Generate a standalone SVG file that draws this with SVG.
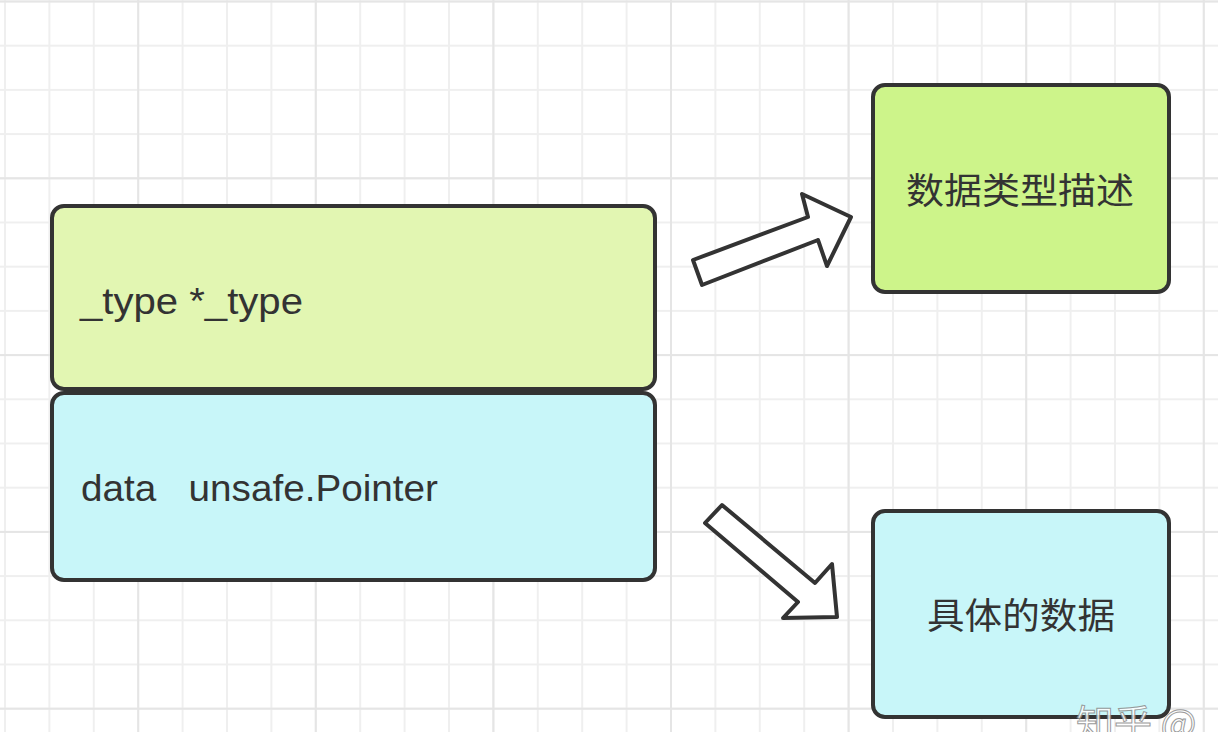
<svg xmlns="http://www.w3.org/2000/svg" width="1218" height="732" viewBox="0 0 1218 732">
  <style>
    .box { stroke: #333333; stroke-width: 4; }
    .green1 { fill: #e2f6b2; }
    .cyan { fill: #c8f6f9; }
    .green2 { fill: #cdf48a; }
    .lbl { font-family: "Liberation Sans", "Noto Sans CJK SC", sans-serif; font-size: 36px; fill: #333333; }
    .cjk { font-family: "Noto Sans CJK SC", "Liberation Sans", sans-serif; font-size: 36px; fill: #333333; }
    .arrow { fill: #ffffff; stroke: #333333; stroke-width: 4; stroke-linejoin: round; }
    .wm { font-family: "Noto Sans CJK SC", sans-serif; font-size: 38px; fill: #ffffff; stroke: #8a8a8a; stroke-width: 1; opacity: 0.85; }
  </style>
  <defs>
    <pattern id="minor" patternUnits="userSpaceOnUse" x="4" y="0.5" width="44.4" height="44.2">
      <path d="M1 0 V44.2 M0 1 H44.4" stroke="#efefef" stroke-width="2" fill="none"/>
    </pattern>
    <pattern id="major" patternUnits="userSpaceOnUse" x="137.2" y="0.5" width="177.6" height="176.8">
      <path d="M1 0 V176.8 M0 1 H177.6" stroke="#e5e5e5" stroke-width="2" fill="none"/>
    </pattern>
  </defs>
  <rect x="0" y="0" width="1218" height="732" fill="#ffffff"/>
  <rect x="0" y="0" width="1218" height="732" fill="url(#minor)"/>
  <rect x="0" y="0" width="1218" height="732" fill="url(#major)"/>

  <g id="type-field">
    <rect class="box green1" x="52" y="206" width="603" height="183" rx="12"/>
    <text class="lbl" x="80" y="314" textLength="223" lengthAdjust="spacingAndGlyphs">_type *_type</text>
  </g>
  <g id="data-field">
    <rect class="box cyan" x="52" y="393" width="603" height="187" rx="12"/>
    <text class="lbl" x="81" y="501" textLength="357" lengthAdjust="spacingAndGlyphs" xml:space="preserve">data   unsafe.Pointer</text>
  </g>
  <g id="type-desc">
    <rect class="box green2" x="873" y="85" width="296" height="207" rx="12"/>
    <text class="cjk" x="1020" y="204" text-anchor="middle" textLength="228" lengthAdjust="spacingAndGlyphs">数据类型描述</text>
  </g>
  <g id="concrete-data">
    <rect class="box cyan" x="873" y="511" width="296" height="206" rx="12"/>
    <text class="cjk" x="1021" y="629" text-anchor="middle" textLength="188" lengthAdjust="spacingAndGlyphs">具体的数据</text>
  </g>

  <g id="connectors">
    <polygon class="arrow" points="693,260 808,217 802,194 851,217 827,266 818,240 702,285"/>
    <polygon class="arrow" points="722,505 815,583 832,564 837,617 783,618 798,602 705,523"/>
  </g>

  <text class="wm" x="1076" y="737">知乎 @</text>
</svg>
